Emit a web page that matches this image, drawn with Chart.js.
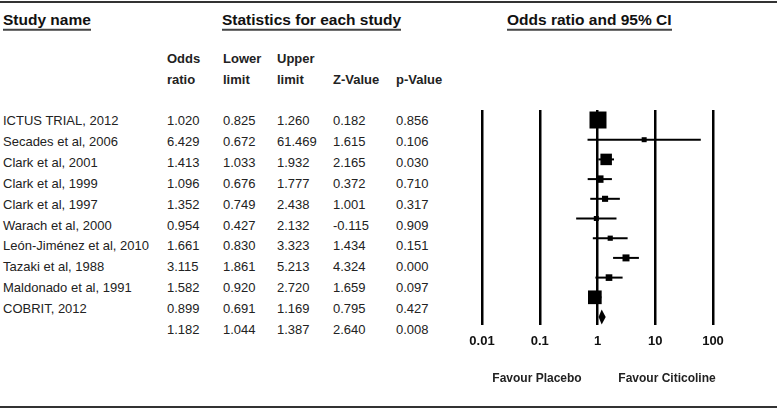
<!DOCTYPE html>
<html>
<head>
<meta charset="utf-8">
<script src="https://cdn.jsdelivr.net/npm/chart.js@4.4.1/dist/chart.umd.min.js"></script>
<style>
  body { margin: 0; background: #fff; }
  #wrap { position: relative; width: 781px; height: 410px; overflow: hidden;
          font-family: "Liberation Sans", Arial, sans-serif; color: #222; }
  .t { position: absolute; white-space: nowrap; line-height: 1; transform: translateY(-50%); font-size: 13px; }
  .b { font-weight: bold; }
  .h { font-weight: bold; font-size: 15.5px; color: #111; padding-bottom: 1px; border-bottom: 2px solid #444; }
  .rule { position: absolute; left: 0; width: 777px; height: 2px; background: #333; }
  #plot { position: absolute; left: 440px; top: 90px; }
</style>
</head>
<body>
<div id="wrap">
  <div class="rule" style="top:1px"></div>
  <div class="rule" style="top:406px"></div>
  <canvas id="plot" width="340" height="290"></canvas>
</div>

<script>
// -------------------------------
// DATA
// -------------------------------
const studies = ["ICTUS TRIAL, 2012", "Secades et al, 2006", "Clark et al, 2001", "Clark et al, 1999",
                 "Clark et al, 1997", "Warach et al, 2000", "León-Jiménez et al, 2010", "Tazaki et al, 1988",
                 "Maldonado et al, 1991", "COBRIT, 2012"];
const oddsRatio = [1.020, 6.429, 1.413, 1.096, 1.352, 0.954, 1.661, 3.115, 1.582, 0.899];
const lowerLimit = [0.825, 0.672, 1.033, 0.676, 0.749, 0.427, 0.830, 1.861, 0.920, 0.691];
const upperLimit = [1.260, 61.469, 1.932, 1.777, 2.438, 2.132, 3.323, 5.213, 2.720, 1.169];
const zValue = [0.182, 1.615, 2.165, 0.372, 1.001, -0.115, 1.434, 4.324, 1.659, 0.795];
const pValue = [0.856, 0.106, 0.030, 0.710, 0.317, 0.909, 0.151, 0.000, 0.097, 0.427];

// pooled result (last row)
const summary = [1.182, 1.044, 1.387, 2.640, 0.008];

const tickValues = [0.01, 0.1, 1, 10, 100];
const tickLabels = ["0.01", "0.1", "1", "10", "100"];

// -------------------------------
// TABLE (left side)
// -------------------------------
const wrap = document.getElementById("wrap");

function addText(txt, x, y, cls, extra) {
    let d = document.createElement("div");
    d.className = "t " + (cls || "");
    d.textContent = txt;
    d.style.left = x + "px";
    d.style.top = y + "px";
    if (extra) d.style.cssText += extra;
    wrap.appendChild(d);
    return d;
}

addText("Study name", 3, 21, "h");
addText("Statistics for each study", 222, 21, "h");
addText("Odds ratio and 95% CI", 507, 21, "h");

const colX = [167, 223, 277, 333, 396];
addText("Odds", colX[0], 58, "b");
addText("ratio", colX[0], 79, "b");
addText("Lower", colX[1], 58, "b");
addText("limit", colX[1], 79, "b");
addText("Upper", colX[2], 58, "b");
addText("limit", colX[2], 79, "b");
addText("Z-Value", colX[3], 79, "b");
addText("p-Value", colX[4], 79, "b");

for (let i = 0; i < studies.length; i++) {
    let y = 120 + i * 20.9;
    addText(studies[i], 3, y);
    let vals = [oddsRatio[i], lowerLimit[i], upperLimit[i], zValue[i], pValue[i]];
    vals.forEach((v, k) => addText(v.toFixed(3), colX[k], y));
}
summary.forEach((v, k) => addText(v.toFixed(3), colX[k], 120 + studies.length * 20.9));

// axis captions under the plot
let c1 = addText("Favour Placebo", 537, 378, "b", "font-size:12px;");
c1.style.transform = "translate(-50%,-50%)";
let c2 = addText("Favour Citicoline", 667, 378, "b", "font-size:12px;");
c2.style.transform = "translate(-50%,-50%)";

// -------------------------------
// MARKER SIZE FROM INVERSE-VARIANCE WEIGHT
// -------------------------------
const weights = lowerLimit.map((lo, i) => {
    let se = (Math.log(upperLimit[i]) - Math.log(lo)) / (2 * 1.96);
    return 1 / (se * se);
});
const wMax = Math.max(...weights);
const squareSide = weights.map(w => Math.max(5, 17 * Math.sqrt(w / wMax)));

// -------------------------------
// DATASETS
// -------------------------------
let datasets = [];

datasets.push({
    type: "scatter",
    data: oddsRatio.map((v, i) => ({ x: v, y: i })),
    pointStyle: "rect",
    pointRadius: squareSide.map(s => s / (2 * Math.SQRT1_2)),
    backgroundColor: "#000",
    borderWidth: 0,
    order: 0
});

for (let i = 0; i < studies.length; i++) {
    datasets.push({
        type: "line",
        data: [{ x: lowerLimit[i], y: i }, { x: upperLimit[i], y: i }],
        borderColor: "#000",
        borderWidth: 2,
        pointRadius: 0,
        order: 1
    });
}

// summary diamond
const diamondPlugin = {
    id: "diamond",
    afterDatasetsDraw(chart) {
        const xs = chart.scales.x, ys = chart.scales.y;
        const ctx = chart.ctx;
        let yc = ys.getPixelForValue(studies.length);
        let xl = xs.getPixelForValue(summary[1]);
        let xm = xs.getPixelForValue(summary[0]);
        let xr = xs.getPixelForValue(summary[2]);
        ctx.save();
        ctx.fillStyle = "#000";
        ctx.beginPath();
        ctx.moveTo(xl, yc);
        ctx.lineTo(xm, yc - 7.5);
        ctx.lineTo(xr, yc);
        ctx.lineTo(xm, yc + 7.5);
        ctx.closePath();
        ctx.fill();
        ctx.restore();
    }
};

// -------------------------------
// CHART
// -------------------------------
Chart.defaults.font.family = "'Liberation Sans', Arial, sans-serif";

new Chart(document.getElementById("plot"), {
    type: "scatter",
    data: { datasets: datasets },
    options: {
        responsive: false,
        animation: false,
        events: [],
        layout: { padding: { left: 42, right: 67, top: 20, bottom: 25 } },
        plugins: { legend: { display: false }, tooltip: { enabled: false } },
        scales: {
            x: {
                type: "logarithmic",
                min: 0.01,
                max: 100,
                afterBuildTicks: s => { s.ticks = tickValues.map(v => ({ value: v })); },
                afterFit: s => { s.height = 30; },
                border: { display: false },
                grid: { color: "#000", lineWidth: 2.5, drawTicks: false },
                ticks: {
                    padding: 9,
                    color: "#111",
                    font: { size: 13, weight: "bold" },
                    autoSkip: false,
                    maxRotation: 0,
                    callback: (v, i) => tickLabels[i]
                }
            },
            y: {
                type: "linear",
                display: false,
                reverse: true,
                min: -0.508,
                max: 10.406
            }
        }
    },
    plugins: [diamondPlugin]
});
</script>
</body>
</html>
